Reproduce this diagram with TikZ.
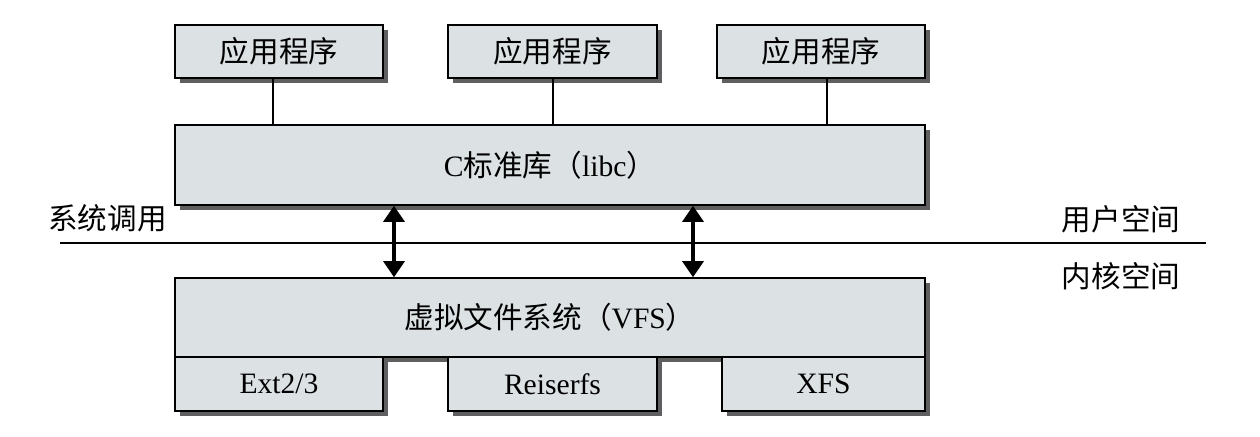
\documentclass[tikz,border=0pt]{standalone}
\usepackage{fontspec}
\setmainfont{Liberation Serif}
\newfontfamily\cjkfont{Noto Sans CJK SC}
\usepackage{tikz}
\usetikzlibrary{shapes.geometric, arrows.meta, positioning, shadows, calc}
\definecolor{boxgray}{RGB}{220,225,228}
\definecolor{shadowgray}{RGB}{95,95,98}
\newcommand{\zh}[1]{{\cjkfont #1}}

\begin{document}
\begin{tikzpicture}[x=0.5pt,y=-0.5pt,
    box/.style={rectangle,draw=black,fill=boxgray,line width=0.8pt,inner sep=0pt,
        font=\fontsize{14.8}{17}\selectfont,
        drop shadow={shadow xshift=2.5pt,shadow yshift=-2.5pt,fill=shadowgray,opacity=1}},
    link/.style={line width=0.6pt},
    sysarrow/.style={line width=1.6pt,{Triangle[width=10.5pt,length=8pt]}-{Triangle[width=10.5pt,length=8pt]}},
    lbl/.style={font=\fontsize{14.8}{17}\selectfont\cjkfont,inner sep=0pt}]
    \useasboundingbox (0,0) rectangle (1260,436);

    % Applicazioni
    \node[box,minimum width=104pt,minimum height=26.5pt] (app1) at (279,51.5) {\zh{应用程序}};
    \node[box,minimum width=104.5pt,minimum height=26.5pt] (app2) at (552.5,51.5) {\zh{应用程序}};
    \node[box,minimum width=104pt,minimum height=26.5pt] (app3) at (821,51.5) {\zh{应用程序}};

    % Libreria C
    \node[box,minimum width=375pt,minimum height=40pt] (libc) at (550,165) {C\zh{标准库（}libc\zh{）}};
    \draw[link] ([xshift=-3pt]app1.south) -- ([xshift=-3pt]app1.south |- libc.north);
    \draw[link] ([xshift=0.25pt]app2.south) -- ([xshift=0.25pt]app2.south |- libc.north);
    \draw[link] ([xshift=3pt]app3.south) -- ([xshift=3pt]app3.south |- libc.north);

    % Confine utente / kernel
    \coordinate (sepL) at (60,243);
    \coordinate (sepR) at (1206,243);
    \draw[link,line width=0.7pt] (sepL) -- (sepR);
    \node[lbl] (syscall) at (107.5,218) {系统调用};
    \node[lbl] (userspace) at (1121,219) {用户空间};
    \node[lbl] (kernelspace) at (1121,276) {内核空间};

    % VFS e filesystem
    \node[box,minimum width=375pt,minimum height=39.5pt] (vfs) at (550,317.5) {\zh{虚拟文件系统（}VFS\zh{）}};
    \node[box,minimum width=104pt,minimum height=27pt] (ext) at (279,384) {Ext2/3};
    \node[box,minimum width=104.5pt,minimum height=27pt] (reiser) at (552.5,384) {Reiserfs};
    \node[box,minimum width=101.5pt,minimum height=27pt] (xfs) at (823.5,384) {XFS};

    % Chiamate di sistema
    \coordinate (call1) at (394,243);
    \coordinate (call2) at (693,243);
    \draw[sysarrow] (libc.south -| call1) -- (vfs.north -| call1);
    \draw[sysarrow] (libc.south -| call2) -- (vfs.north -| call2);
\end{tikzpicture}
\end{document}
